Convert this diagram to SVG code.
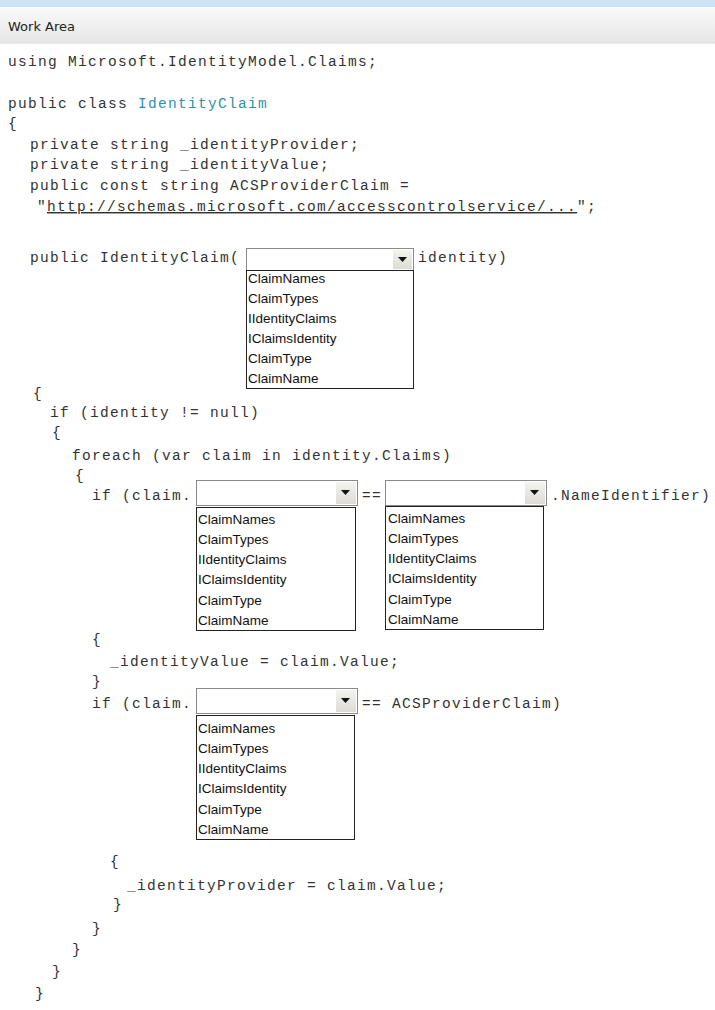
<svg xmlns="http://www.w3.org/2000/svg" width="715" height="1010" viewBox="0 0 715 1010">
<defs>
<linearGradient id="hdr" x1="0" y1="0" x2="0" y2="1"><stop offset="0" stop-color="#fafafa"/><stop offset="1" stop-color="#e6e6e6"/></linearGradient>
<linearGradient id="btn" x1="0" y1="0" x2="0" y2="1"><stop offset="0" stop-color="#f4f4f0"/><stop offset="1" stop-color="#dcdcd4"/></linearGradient>
</defs>
<style>
.c{font-family:"Liberation Mono",monospace;font-size:14.5px;letter-spacing:1.3px;fill:#333}
.t{fill:#2b91af}
.h{font-family:"DejaVu Sans",sans-serif;font-size:13px;fill:#222}
.i{font-family:"Liberation Sans",Arial,sans-serif;font-size:13.5px;fill:#111}
.box{fill:#fff;stroke:#8a8a8a;stroke-width:1}
.lst{fill:#fff;stroke:#222;stroke-width:1}
</style>
<rect width="715" height="1010" fill="#fff"/>
<rect width="715" height="7" fill="#cfe3f7"/>
<rect y="7" width="715" height="36" fill="url(#hdr)"/>
<line x1="0" y1="43" x2="715" y2="43" stroke="#d8d8d8"/>
<text class="h" x="8" y="31">Work Area</text>
<g id="code">
<text class="c" x="8" y="66">using Microsoft.IdentityModel.Claims;</text>
<text class="c" x="8" y="108">public class <tspan class="t">IdentityClaim</tspan></text>
<text class="c" x="8" y="128">{</text>
<text class="c" x="30" y="149">private string _identityProvider;</text>
<text class="c" x="30" y="169">private string _identityValue;</text>
<text class="c" x="30" y="190">public const string ACSProviderClaim =</text>
<text class="c" x="37" y="211">"<tspan text-decoration="underline">http://schemas.microsoft.com/accesscontrolservice/...</tspan>";</text>
<text class="c" x="30" y="262">public IdentityClaim(</text>
<text class="c" x="418" y="262">identity)</text>
<text class="c" x="33" y="398">{</text>
<text class="c" x="50" y="417">if (identity != null)</text>
<text class="c" x="52" y="437">{</text>
<text class="c" x="72" y="460">foreach (var claim in identity.Claims)</text>
<text class="c" x="75" y="480">{</text>
<text class="c" x="92" y="500">if (claim.</text>
<text class="c" x="362" y="500">==</text>
<text class="c" x="551" y="500">.NameIdentifier)</text>
<text class="c" x="92" y="644">{</text>
<text class="c" x="110" y="666">_identityValue = claim.Value;</text>
<text class="c" x="92" y="686">}</text>
<text class="c" x="92" y="708">if (claim.</text>
<text class="c" x="362" y="708">== ACSProviderClaim)</text>
<text class="c" x="110" y="866">{</text>
<text class="c" x="127" y="890">_identityProvider = claim.Value;</text>
<text class="c" x="113" y="909">}</text>
<text class="c" x="92" y="933">}</text>
<text class="c" x="72" y="954">}</text>
<text class="c" x="52" y="976">}</text>
<text class="c" x="35" y="998">}</text>
</g>
<g id="dd1">
<rect class="box" x="246.5" y="248.5" width="167" height="22"/>
<rect x="393" y="250" width="19" height="19" fill="url(#btn)"/><path d="M398 257h9l-4.5 5z" fill="#111"/>
<rect class="lst" x="246.5" y="270.5" width="167" height="118"/>
<text class="i" x="248" y="283">ClaimNames</text><text class="i" x="248" y="303">ClaimTypes</text><text class="i" x="248" y="323">IIdentityClaims</text><text class="i" x="248" y="343">IClaimsIdentity</text><text class="i" x="248" y="363">ClaimType</text><text class="i" x="248" y="383">ClaimName</text>
</g>
<g id="dd2">
<rect class="box" x="196.5" y="480.5" width="161" height="25"/>
<rect x="336" y="482" width="20" height="22" fill="url(#btn)"/><path d="M341 490h9l-4.5 5z" fill="#111"/>
<rect class="lst" x="196.5" y="507.5" width="159" height="123"/>
<text class="i" x="198" y="524">ClaimNames</text><text class="i" x="198" y="544">ClaimTypes</text><text class="i" x="198" y="564">IIdentityClaims</text><text class="i" x="198" y="584">IClaimsIdentity</text><text class="i" x="198" y="605">ClaimType</text><text class="i" x="198" y="625">ClaimName</text>
</g>
<g id="dd3">
<rect class="box" x="385.5" y="480.5" width="161" height="25"/>
<rect x="525" y="482" width="20" height="22" fill="url(#btn)"/><path d="M530 490h9l-4.5 5z" fill="#111"/>
<rect class="lst" x="385.5" y="506.5" width="158" height="123"/>
<text class="i" x="388" y="523">ClaimNames</text><text class="i" x="388" y="543">ClaimTypes</text><text class="i" x="388" y="563">IIdentityClaims</text><text class="i" x="388" y="583">IClaimsIdentity</text><text class="i" x="388" y="604">ClaimType</text><text class="i" x="388" y="624">ClaimName</text>
</g>
<g id="dd4">
<rect class="box" x="196.5" y="688.5" width="161" height="25"/>
<rect x="336" y="690" width="20" height="22" fill="url(#btn)"/><path d="M341 698h9l-4.5 5z" fill="#111"/>
<rect class="lst" x="196.5" y="715.5" width="158" height="124"/>
<text class="i" x="198" y="733">ClaimNames</text><text class="i" x="198" y="753">ClaimTypes</text><text class="i" x="198" y="773">IIdentityClaims</text><text class="i" x="198" y="793">IClaimsIdentity</text><text class="i" x="198" y="814">ClaimType</text><text class="i" x="198" y="834">ClaimName</text>
</g>
</svg>
